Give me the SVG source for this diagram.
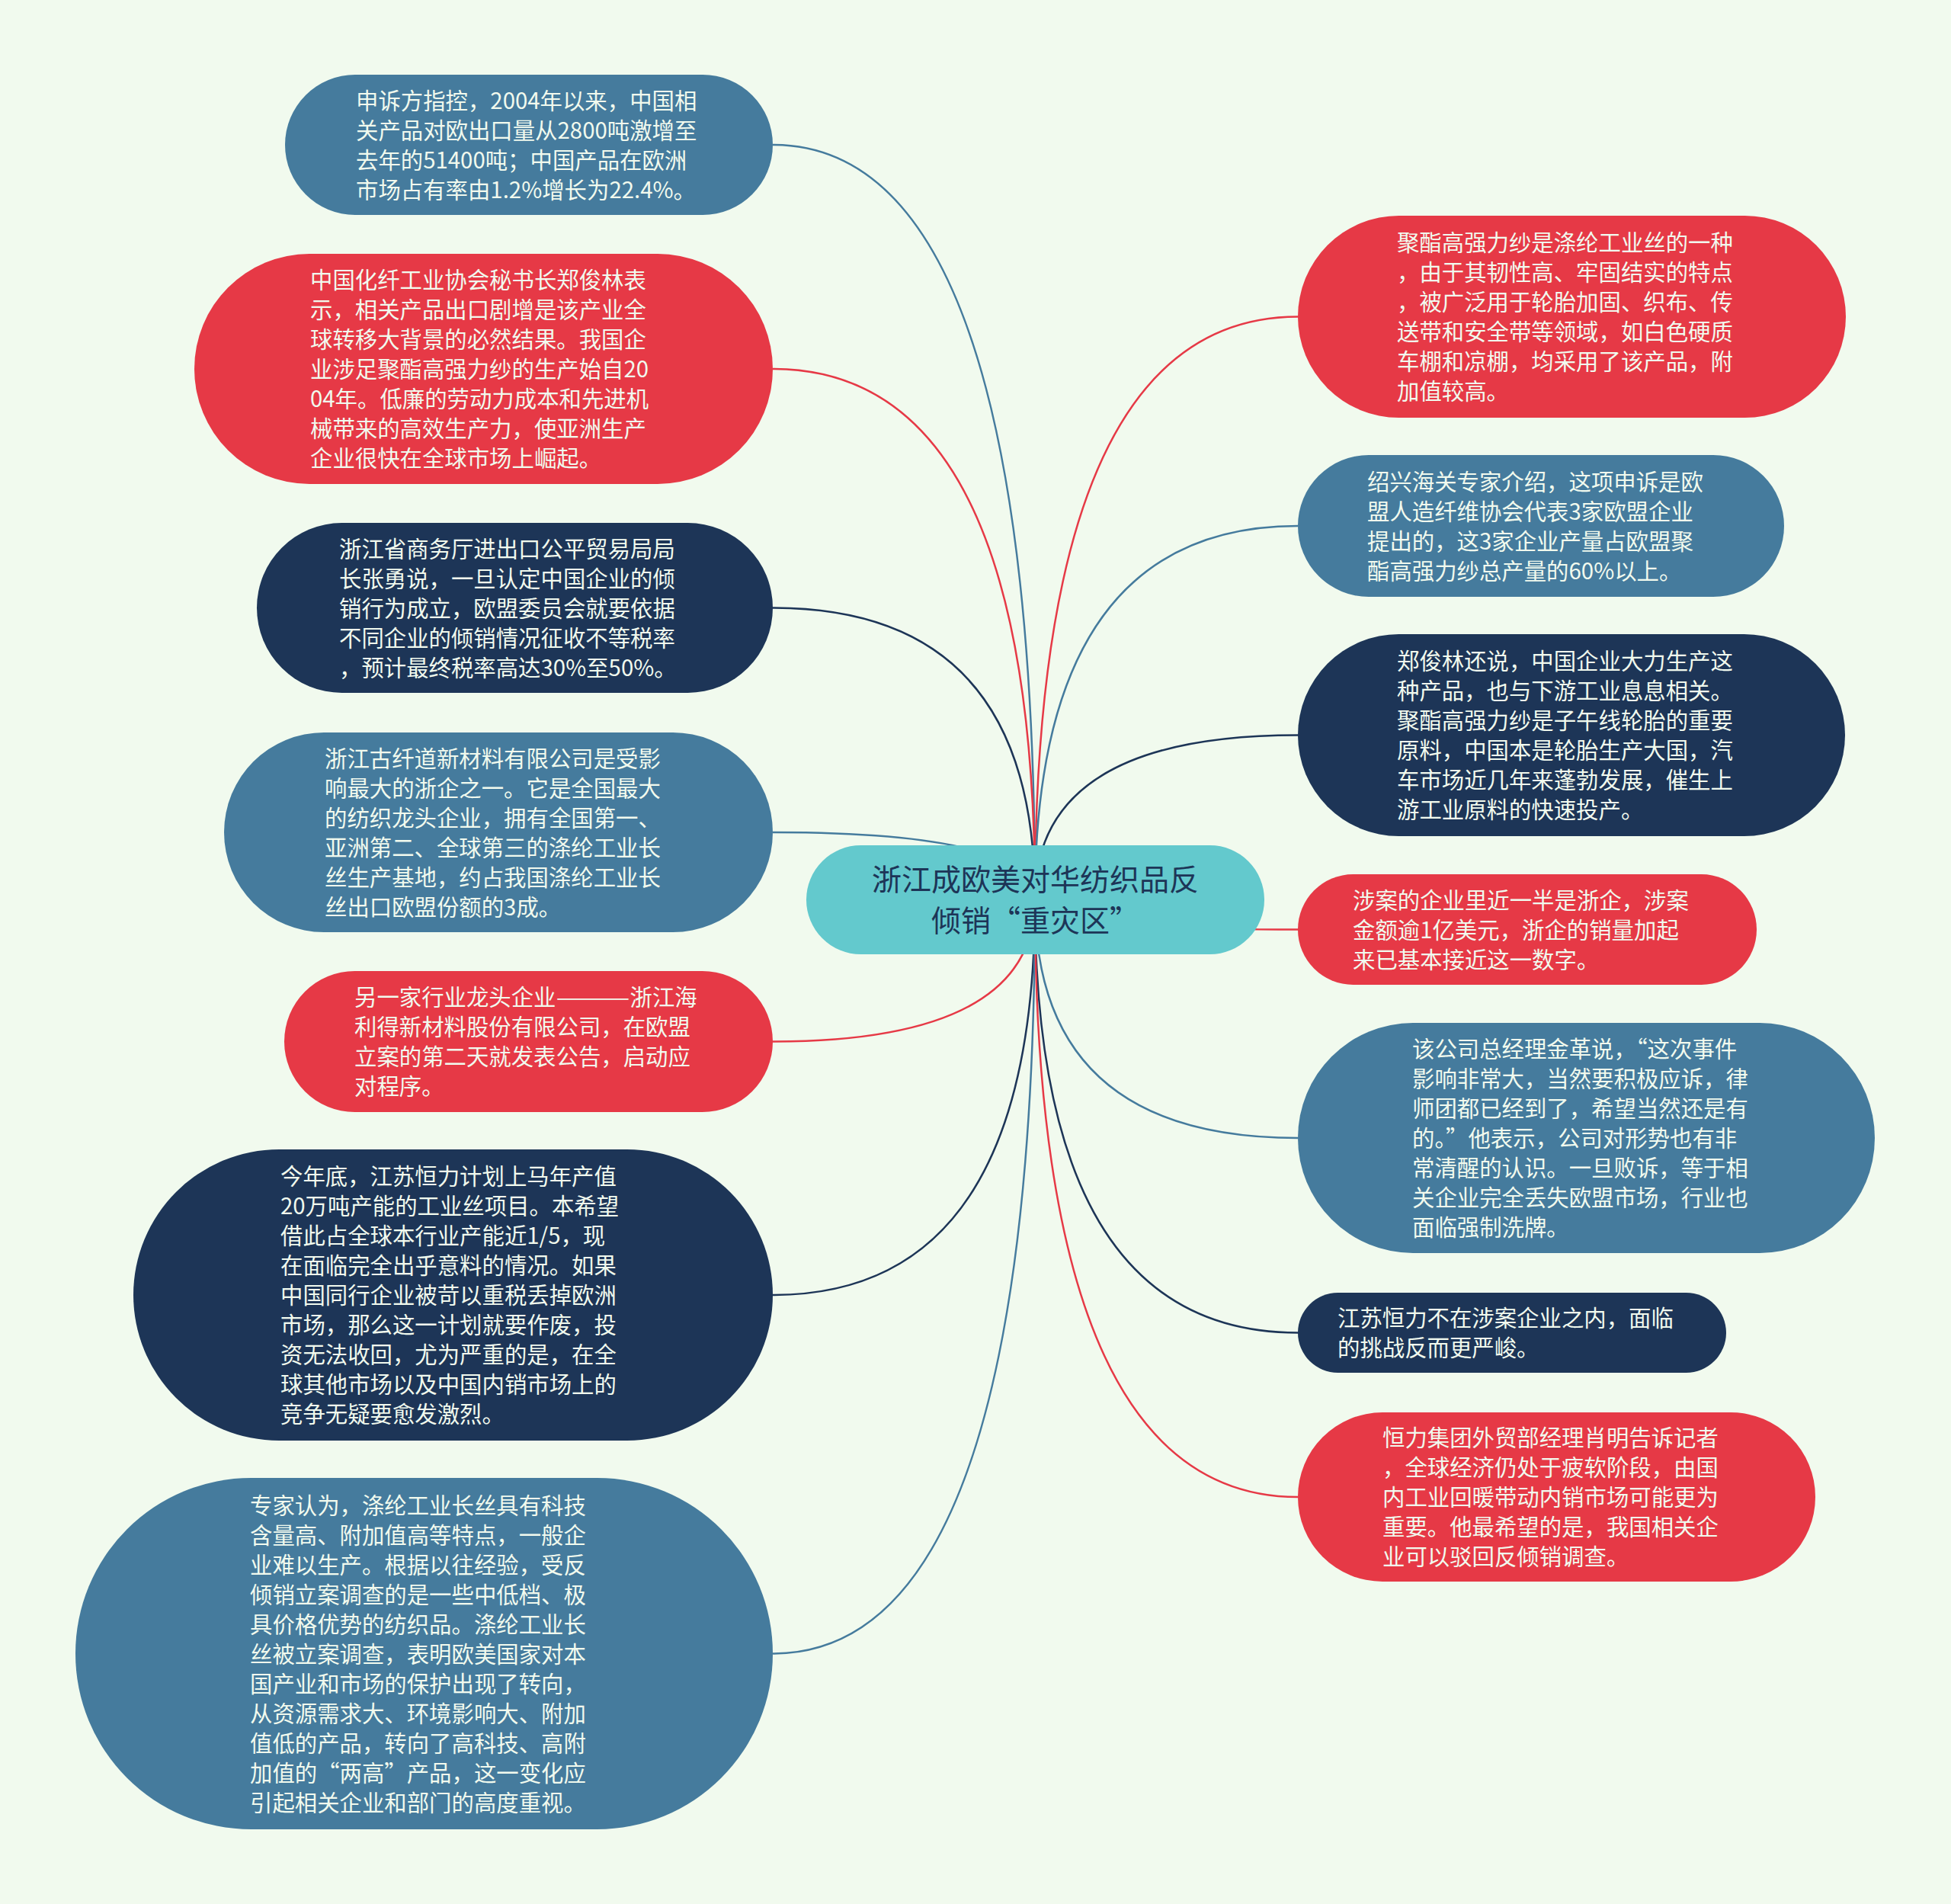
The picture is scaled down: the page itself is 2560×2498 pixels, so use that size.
<svg xmlns="http://www.w3.org/2000/svg" width="2560" height="2498" viewBox="0 0 2560 2498">
<style>
.bg{fill:#F1FAEE}
.red{fill:#E63946}
.navy{fill:#1D3557}
.blue{fill:#457B9D}
.root{fill:#63C9CD}
.t{font-family:"Noto Sans CJK SC","Noto Sans",sans-serif;font-size:29.4px;fill:#F1FAEE;transform:translate(0px,-2px)}
.rt{font-family:"Noto Sans CJK SC","Noto Sans",sans-serif;font-size:39px;fill:#1D3557;text-anchor:middle}
.c{fill:none;stroke-width:2.5}
.cr{stroke:#E63946}
.cn{stroke:#1D3557}
.cb{stroke:#457B9D}
</style>
<rect class="bg" x="0" y="0" width="2560" height="2498"/>
<g id="connectors">
<path class="c cb" d="M1014,190 Q1358,190 1358,1180"/>
<path class="c cr" d="M1014,484 Q1358,484 1358,1180"/>
<path class="c cn" d="M1014,797.5 Q1358,797.5 1358,1180"/>
<path class="c cb" d="M1014,1092 Q1358,1092 1358,1180"/>
<path class="c cr" d="M1014,1366.5 Q1358,1366.5 1358,1180"/>
<path class="c cn" d="M1014,1699 Q1358,1699 1358,1180"/>
<path class="c cb" d="M1014,2169.5 Q1358,2169.5 1358,1180"/>
<path class="c cr" d="M1703,415.5 Q1358,415.5 1358,1180"/>
<path class="c cb" d="M1703,690 Q1358,690 1358,1180"/>
<path class="c cn" d="M1703,964.5 Q1358,964.5 1358,1180"/>
<path class="c cr" d="M1703,1219.5 Q1358,1219.5 1358,1180"/>
<path class="c cb" d="M1703,1493 Q1358,1493 1358,1180"/>
<path class="c cn" d="M1703,1748.5 Q1358,1748.5 1358,1180"/>
<path class="c cr" d="M1703,1964 Q1358,1964 1358,1180"/>
</g>
<g id="root">
<rect class="root" x="1058" y="1109" width="601" height="143" rx="71.5"/>
<text class="rt"><tspan x="1358.5" y="1168">浙江成欧美对华纺织品反</tspan><tspan x="1358.5" y="1222">倾销“重灾区”</tspan></text>
</g>
<g id="L1">
<rect class="blue" x="374" y="98" width="640" height="184" rx="92"/>
<text class="t"><tspan x="467" y="144.5">申诉方指控，2004年以来，中国相</tspan><tspan x="467" y="183.5">关产品对欧出口量从2800吨激增至</tspan><tspan x="467" y="222.5">去年的51400吨；中国产品在欧洲</tspan><tspan x="467" y="261.5">市场占有率由1.2%增长为22.4%。</tspan></text>
</g>
<g id="L2">
<rect class="red" x="255" y="333" width="759" height="302" rx="151"/>
<text class="t"><tspan x="407" y="380">中国化纤工业协会秘书长郑俊林表</tspan><tspan x="407" y="419">示，相关产品出口剧增是该产业全</tspan><tspan x="407" y="458">球转移大背景的必然结果。我国企</tspan><tspan x="407" y="497">业涉足聚酯高强力纱的生产始自20</tspan><tspan x="407" y="536">04年。低廉的劳动力成本和先进机</tspan><tspan x="407" y="575">械带来的高效生产力，使亚洲生产</tspan><tspan x="407" y="614">企业很快在全球市场上崛起。</tspan></text>
</g>
<g id="L3">
<rect class="navy" x="337" y="686" width="677" height="223" rx="111.5"/>
<text class="t"><tspan x="445" y="732.5">浙江省商务厅进出口公平贸易局局</tspan><tspan x="445" y="771.5">长张勇说，一旦认定中国企业的倾</tspan><tspan x="445" y="810.5">销行为成立，欧盟委员会就要依据</tspan><tspan x="445" y="849.5">不同企业的倾销情况征收不等税率</tspan><tspan x="445" y="888.5">，预计最终税率高达30%至50%。</tspan></text>
</g>
<g id="L4">
<rect class="blue" x="294" y="961" width="720" height="262" rx="131"/>
<text class="t"><tspan x="426" y="1007.5">浙江古纤道新材料有限公司是受影</tspan><tspan x="426" y="1046.5">响最大的浙企之一。它是全国最大</tspan><tspan x="426" y="1085.5">的纺织龙头企业，拥有全国第一、</tspan><tspan x="426" y="1124.5">亚洲第二、全球第三的涤纶工业长</tspan><tspan x="426" y="1163.5">丝生产基地，约占我国涤纶工业长</tspan><tspan x="426" y="1202.5">丝出口欧盟份额的3成。</tspan></text>
</g>
<g id="L5">
<rect class="red" x="373" y="1274" width="641" height="185" rx="92.5"/>
<text class="t"><tspan x="465" y="1321">另一家行业龙头企业</tspan><tspan textLength="97" lengthAdjust="spacingAndGlyphs">———</tspan><tspan>浙江海</tspan><tspan x="465" y="1360">利得新材料股份有限公司，在欧盟</tspan><tspan x="465" y="1399">立案的第二天就发表公告，启动应</tspan><tspan x="465" y="1438">对程序。</tspan></text>
</g>
<g id="L6">
<rect class="navy" x="175" y="1508" width="839" height="382" rx="191"/>
<text class="t"><tspan x="368" y="1556">今年底，江苏恒力计划上马年产值</tspan><tspan x="368" y="1595">20万吨产能的工业丝项目。本希望</tspan><tspan x="368" y="1634">借此占全球本行业产能近1/5，现</tspan><tspan x="368" y="1673">在面临完全出乎意料的情况。如果</tspan><tspan x="368" y="1712">中国同行企业被苛以重税丢掉欧洲</tspan><tspan x="368" y="1751">市场，那么这一计划就要作废，投</tspan><tspan x="368" y="1790">资无法收回，尤为严重的是，在全</tspan><tspan x="368" y="1829">球其他市场以及中国内销市场上的</tspan><tspan x="368" y="1868">竞争无疑要愈发激烈。</tspan></text>
</g>
<g id="L7">
<rect class="blue" x="99" y="1939" width="915" height="461" rx="230.5"/>
<text class="t"><tspan x="328" y="1987.5">专家认为，涤纶工业长丝具有科技</tspan><tspan x="328" y="2026.5">含量高、附加值高等特点，一般企</tspan><tspan x="328" y="2065.5">业难以生产。根据以往经验，受反</tspan><tspan x="328" y="2104.5">倾销立案调查的是一些中低档、极</tspan><tspan x="328" y="2143.5">具价格优势的纺织品。涤纶工业长</tspan><tspan x="328" y="2182.5">丝被立案调查，表明欧美国家对本</tspan><tspan x="328" y="2221.5">国产业和市场的保护出现了转向，</tspan><tspan x="328" y="2260.5">从资源需求大、环境影响大、附加</tspan><tspan x="328" y="2299.5">值低的产品，转向了高科技、高附</tspan><tspan x="328" y="2338.5">加值的“两高”产品，这一变化应</tspan><tspan x="328" y="2377.5">引起相关企业和部门的高度重视。</tspan></text>
</g>
<g id="R1">
<rect class="red" x="1703" y="283" width="719" height="265" rx="132.5"/>
<text class="t"><tspan x="1833" y="331">聚酯高强力纱是涤纶工业丝的一种</tspan><tspan x="1833" y="370">，由于其韧性高、牢固结实的特点</tspan><tspan x="1833" y="409">，被广泛用于轮胎加固、织布、传</tspan><tspan x="1833" y="448">送带和安全带等领域，如白色硬质</tspan><tspan x="1833" y="487">车棚和凉棚，均采用了该产品，附</tspan><tspan x="1833" y="526">加值较高。</tspan></text>
</g>
<g id="R2">
<rect class="blue" x="1703" y="597" width="638" height="186" rx="93"/>
<text class="t"><tspan x="1794" y="644.5">绍兴海关专家介绍，这项申诉是欧</tspan><tspan x="1794" y="683.5">盟人造纤维协会代表3家欧盟企业</tspan><tspan x="1794" y="722.5">提出的，这3家企业产量占欧盟聚</tspan><tspan x="1794" y="761.5">酯高强力纱总产量的60%以上。</tspan></text>
</g>
<g id="R3">
<rect class="navy" x="1703" y="832" width="718" height="265" rx="132.5"/>
<text class="t"><tspan x="1833" y="880">郑俊林还说，中国企业大力生产这</tspan><tspan x="1833" y="919">种产品，也与下游工业息息相关。</tspan><tspan x="1833" y="958">聚酯高强力纱是子午线轮胎的重要</tspan><tspan x="1833" y="997">原料，中国本是轮胎生产大国，汽</tspan><tspan x="1833" y="1036">车市场近几年来蓬勃发展，催生上</tspan><tspan x="1833" y="1075">游工业原料的快速投产。</tspan></text>
</g>
<g id="R4">
<rect class="red" x="1703" y="1147" width="602" height="145" rx="72.5"/>
<text class="t"><tspan x="1775" y="1193.5">涉案的企业里近一半是浙企，涉案</tspan><tspan x="1775" y="1232.5">金额逾1亿美元，浙企的销量加起</tspan><tspan x="1775" y="1271.5">来已基本接近这一数字。</tspan></text>
</g>
<g id="R5">
<rect class="blue" x="1703" y="1342" width="757" height="302" rx="151"/>
<text class="t"><tspan x="1853" y="1389">该公司总经理金革说，“这次事件</tspan><tspan x="1853" y="1428">影响非常大，当然要积极应诉，律</tspan><tspan x="1853" y="1467">师团都已经到了，希望当然还是有</tspan><tspan x="1853" y="1506">的。”他表示，公司对形势也有非</tspan><tspan x="1853" y="1545">常清醒的认识。一旦败诉，等于相</tspan><tspan x="1853" y="1584">关企业完全丢失欧盟市场，行业也</tspan><tspan x="1853" y="1623">面临强制洗牌。</tspan></text>
</g>
<g id="R6">
<rect class="navy" x="1703" y="1696" width="562" height="105" rx="52.5"/>
<text class="t"><tspan x="1755" y="1742">江苏恒力不在涉案企业之内，面临</tspan><tspan x="1755" y="1781">的挑战反而更严峻。</tspan></text>
</g>
<g id="R7">
<rect class="red" x="1703" y="1853" width="679" height="222" rx="111"/>
<text class="t"><tspan x="1814" y="1899">恒力集团外贸部经理肖明告诉记者</tspan><tspan x="1814" y="1938">，全球经济仍处于疲软阶段，由国</tspan><tspan x="1814" y="1977">内工业回暖带动内销市场可能更为</tspan><tspan x="1814" y="2016">重要。他最希望的是，我国相关企</tspan><tspan x="1814" y="2055">业可以驳回反倾销调查。</tspan></text>
</g>
</svg>
